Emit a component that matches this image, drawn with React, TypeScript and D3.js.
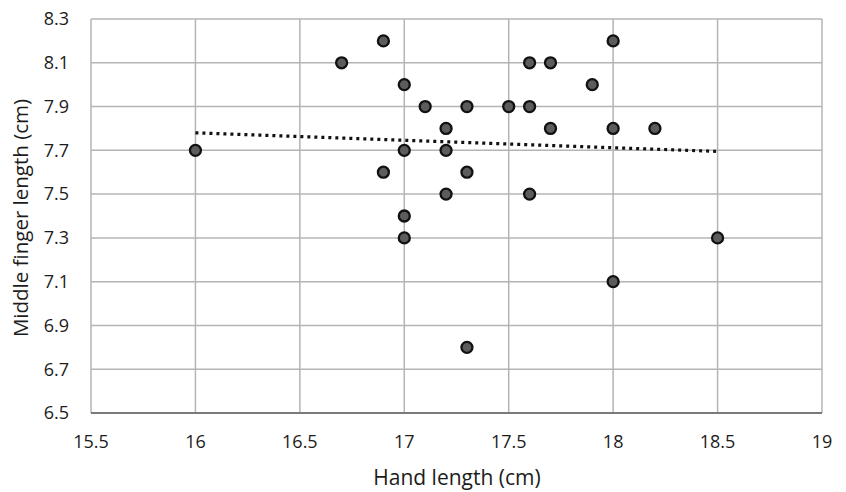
import React from "react";
import * as d3 from "d3";

const handLength = [16, 16.7, 16.9, 17, 17.1, 17.3, 17.5, 17.6, 17.6, 17.7, 17.9, 18, 17.2, 17.7, 18, 18.2, 17, 17.2, 16.9, 17.3, 17.2, 17.6, 17, 17, 18.5, 18, 17.3];
const fingerLength = [7.7, 8.1, 8.2, 8.0, 7.9, 7.9, 7.9, 7.9, 8.1, 8.1, 8.0, 8.2, 7.8, 7.8, 7.8, 7.8, 7.7, 7.7, 7.6, 7.6, 7.5, 7.5, 7.4, 7.3, 7.3, 7.1, 6.8];
const trendX = [16, 18.5];
const trendY = [7.78, 7.695];
const xTicks = [15.5, 16, 16.5, 17, 17.5, 18, 18.5, 19];
const yTicks = [6.5, 6.7, 6.9, 7.1, 7.3, 7.5, 7.7, 7.9, 8.1, 8.3];

const W = 846, H = 492;
const L = 91, R = 822, T = 19, B = 413;
const FONT = "'Open Sans', 'Noto Sans', sans-serif";

export default function App() {
  const x = d3.scaleLinear().domain([15.5, 19]).range([L, R]);
  const y = d3.scaleLinear().domain([6.5, 8.3]).range([B, T]);
  const line = d3.line<number>().x((d, i) => x(trendX[i])).y((d) => y(d));
  const grid = "#b4b4b4";
  return (
    <svg width={W} height={H} style={{ position: "absolute", left: 0, top: 0, background: "#fff" }}>
      <rect x={0} y={0} width={W} height={H} fill="#fff" />
      {yTicks.map((t) => (
        <line key={"gy" + t} x1={L} x2={R} y1={y(t)} y2={y(t)} stroke={grid} strokeWidth={1.5} />
      ))}
      {xTicks.map((t) => (
        <line key={"gx" + t} x1={x(t)} x2={x(t)} y1={T} y2={B} stroke={grid} strokeWidth={1.5} />
      ))}
      <line x1={L} x2={R} y1={B} y2={B} stroke="#7a7a7a" strokeWidth={2} />
      {yTicks.map((t) => (
        <text key={"ty" + t} x={69} y={y(t)} dy="0.35em" textAnchor="end" fontFamily={FONT} fontSize={18} fill="#1c1c1c">
          {t.toFixed(1)}
        </text>
      ))}
      {xTicks.map((t) => (
        <text key={"tx" + t} x={x(t)} y={448} textAnchor="middle" fontFamily={FONT} fontSize={18} fill="#1c1c1c">
          {String(t)}
        </text>
      ))}
      <path d={line(trendY) || ""} fill="none" stroke="#111" strokeWidth={3.2} strokeDasharray="3 4" />
      {handLength.map((hx, i) => (
        <circle key={"p" + i} cx={x(hx)} cy={y(fingerLength[i])} r={5.5} fill="#5c5c5c" stroke="#111" strokeWidth={2.3} />
      ))}
      <text x={457} y={485} textAnchor="middle" fontFamily={FONT} fontSize={21} fill="#1c1c1c">
        Hand length (cm)
      </text>
      <text transform={`translate(28, 218) rotate(-90)`} textAnchor="middle" fontFamily={FONT} fontSize={20.5} fill="#1c1c1c">
        Middle finger length (cm)
      </text>
    </svg>
  );
}
